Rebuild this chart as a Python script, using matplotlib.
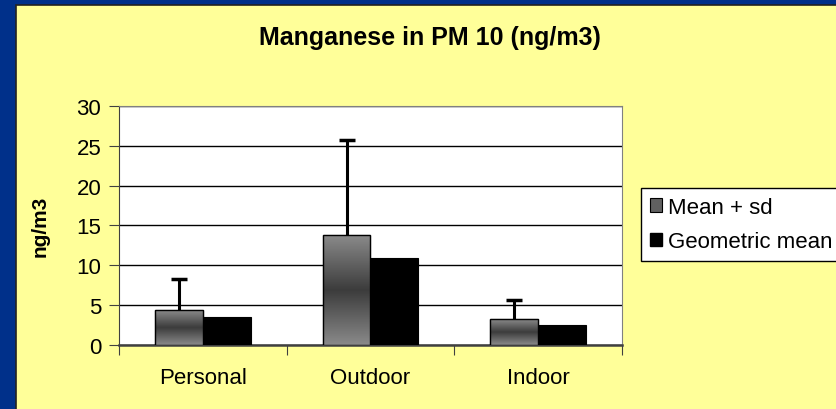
import matplotlib
matplotlib.use('Agg')
import matplotlib.pyplot as plt
import numpy as np
from matplotlib.patches import Rectangle, Patch
from matplotlib.colors import LinearSegmentedColormap

plt.rcParams['font.family'] = ['Liberation Sans', 'DejaVu Sans']

# data
categories = ['Personal', 'Outdoor', 'Indoor']
mean_vals = [4.35, 13.8, 3.25]
sd_vals = [3.9, 11.9, 2.4]
geo_mean = [3.5, 10.85, 2.45]
yticks = [0, 5, 10, 15, 20, 25, 30]

fig = plt.figure(figsize=(8.37, 4.10), dpi=100)
fig.patch.set_facecolor('#00308a')

# yellow panel
panel = Rectangle((16 / 837, -0.05), 1.0, 1 - 6 / 410 + 0.05, transform=fig.transFigure,
                  facecolor='#ffff99', edgecolor='#222222', lw=1.2, zorder=-1)
fig.patches.append(panel)

ax = fig.add_axes([119.3 / 837, 1 - 345.7 / 410, 502.4 / 837, 238.7 / 410])
ax.set_zorder(1)
ax.set_facecolor('white')

x = np.arange(len(categories))
w = 0.285

bars_mean = ax.bar(x - w, mean_vals, w, align='edge', color='#707070',
                   edgecolor='black', lw=0.8, zorder=3)
bars_geo = ax.bar(x, geo_mean, w, align='edge', color='black', edgecolor='black',
                  lw=0.8, zorder=3)

# shaded fill for the mean bars (light - dark - light from top to bottom)
cmap = LinearSegmentedColormap.from_list('shade', ['#8a8a8a', '#3c3c3c', '#8a8a8a'])
grad = np.linspace(0, 1, 256).reshape(-1, 1)
for b in bars_mean:
    im = ax.imshow(grad, cmap=cmap, aspect='auto', zorder=3.5,
                   extent=[b.get_x(), b.get_x() + b.get_width(), 0, b.get_height()])
    im.set_clip_path(b)
    edge = Rectangle((b.get_x(), 0), b.get_width(), b.get_height(), fill=False,
                     edgecolor='black', lw=1.0, zorder=4)
    ax.add_patch(edge)

eb = ax.errorbar(x - w / 2, mean_vals, yerr=[[0] * len(sd_vals), sd_vals], fmt='none',
                 ecolor='black', elinewidth=2.2, capsize=6, capthick=2.5, zorder=5)
# only the upper cap is shown
for cap in eb[1]:
    if np.allclose(cap.get_ydata(), mean_vals):
        cap.set_visible(False)

ax.set_xlim(-0.5, 2.5)
ax.set_ylim(0, 30)
ax.set_yticks(yticks)
ax.yaxis.grid(True, color='black', lw=1)
ax.set_axisbelow(True)

ax.set_xticks([-0.5, 0.5, 1.5, 2.5])
ax.set_xticklabels([])
ax.set_xticks(x, minor=True)
ax.set_xticklabels(categories, minor=True, fontsize=16)
ax.tick_params(axis='x', which='major', direction='out', length=7, color='#404040')
ax.tick_params(axis='x', which='minor', length=0, pad=16)
ax.tick_params(axis='y', direction='out', length=7, color='#404040', labelsize=16, pad=6)

for s in ['top', 'right', 'left']:
    ax.spines[s].set_color('#808080')
ax.spines['left'].set_color('#404040')
ax.spines['bottom'].set_color('#404040')
ax.spines['bottom'].set_linewidth(1.8)

ax.set_ylabel('ng/m3', fontsize=15, fontweight='bold')
ax.yaxis.set_label_coords(-0.138, 0.5)

fig.text(430 / 837, 1 - 38 / 410, 'Manganese in PM 10 (ng/m3)', fontsize=18,
         fontweight='bold', ha='center', va='center')

handles = [Patch(facecolor='#606060', edgecolor='black', lw=0.8),
           Patch(facecolor='black', edgecolor='black')]
leg = fig.legend(handles, ['Mean + sd', 'Geometric mean'], loc='upper left',
                 bbox_to_anchor=(640.7 / 837, 1 - 189 / 410), fontsize=16,
                 frameon=True, fancybox=False, borderaxespad=0, handlelength=0.55,
                 handleheight=0.55, handletextpad=0.3, labelspacing=0.6,
                 borderpad=0.4, framealpha=1)
leg.get_frame().set_edgecolor('black')
leg.get_frame().set_linewidth(1.0)
leg.get_frame().set_facecolor('white')

fig.savefig('out.png', dpi=100, facecolor=fig.get_facecolor())
